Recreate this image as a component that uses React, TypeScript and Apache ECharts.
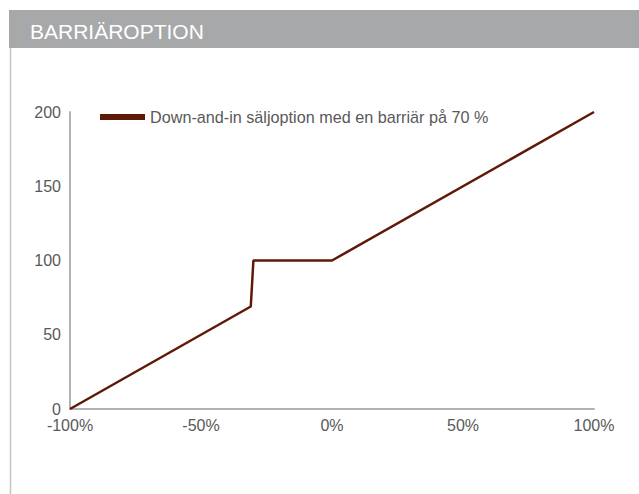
import React, { useEffect, useRef } from "react";
import * as echarts from "echarts";

const title = "BARRIÄROPTION";
const seriesName = "Down-and-in säljoption med en barriär på 70 %";
const xValues = [-100, -31, -30, 0, 100];
const yValues = [0, 69, 100, 100, 200];
const xTicks = [-100, -50, 0, 50, 100];
const yTicks = [0, 50, 100, 150, 200];

const FONT = "'Liberation Sans', Arial, Helvetica, sans-serif";
const LINE_COLOR = "#5e1a06";

export default function App() {
  const ref = useRef<HTMLDivElement>(null);
  useEffect(() => {
    if (!ref.current) return;
    const chart = echarts.init(ref.current, undefined, { renderer: "svg" });
    const data = xValues.map((x, i) => [x, yValues[i]]);
    chart.setOption({
      animation: false,
      backgroundColor: "#ffffff",
      textStyle: { fontFamily: FONT },
      grid: { left: 70, right: 45, top: 112, bottom: 85, containLabel: false },
      legend: {
        show: true,
        left: 95,
        top: 104,
        itemWidth: 45,
        itemHeight: 6,
        itemGap: 8,
        icon: "rect",
        textStyle: { color: "#595959", fontSize: 16.2, fontFamily: FONT },
        data: [{ name: seriesName, itemStyle: { color: LINE_COLOR } }],
      },
      xAxis: {
        type: "value",
        min: xTicks[0],
        max: xTicks[xTicks.length - 1],
        interval: 50,
        axisLine: { show: true, onZero: false, lineStyle: { color: "#b3b3b3", width: 2 } },
        axisTick: { show: false },
        splitLine: { show: false },
        axisLabel: {
          color: "#595959",
          fontSize: 16,
          margin: 8,
          fontFamily: FONT,
          formatter: (v: number) => (xTicks.includes(v) ? `${v}%` : ""),
        },
      },
      yAxis: {
        type: "value",
        min: yTicks[0],
        max: yTicks[yTicks.length - 1],
        interval: 50,
        axisLine: { show: true, onZero: false, lineStyle: { color: "#b3b3b3", width: 2 } },
        axisTick: { show: false },
        splitLine: { show: false },
        axisLabel: {
          color: "#595959",
          fontSize: 16,
          margin: 9,
          padding: [5, 0, 0, 0],
          fontFamily: FONT,
          formatter: (v: number) => (yTicks.includes(v) ? `${v}` : ""),
        },
      },
      graphic: [
        {
          type: "rect",
          shape: { x: 9, y: 10, width: 630, height: 38 },
          style: { fill: "#a7a8aa" },
          silent: true,
        },
        {
          type: "text",
          x: 30,
          y: 31,
          style: {
            text: title,
            fill: "#ffffff",
            fontSize: 21,
            fontFamily: FONT,
            verticalAlign: "middle",
          },
          silent: true,
        },
        {
          type: "line",
          shape: { x1: 10.5, y1: 48, x2: 10.5, y2: 494 },
          style: { stroke: "#c4c4c4", lineWidth: 1.5 },
          silent: true,
        },
      ],
      series: [
        {
          name: seriesName,
          type: "line",
          data,
          symbol: "none",
          lineStyle: { color: LINE_COLOR, width: 2.5 },
          itemStyle: { color: LINE_COLOR },
        },
      ],
    });
    return () => chart.dispose();
  }, []);
  return (
    <div
      ref={ref}
      style={{ position: "fixed", left: 0, top: 0, width: 639, height: 494 }}
    />
  );
}
